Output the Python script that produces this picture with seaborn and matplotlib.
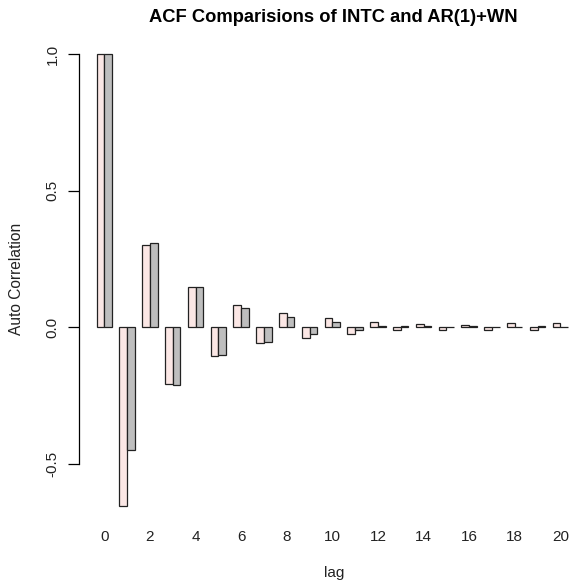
import matplotlib
matplotlib.use("Agg")
import matplotlib.pyplot as plt
import seaborn as sns
import pandas as pd

lags = list(range(21))
intc_acf = [1.0, -0.656, 0.300, -0.209, 0.146, -0.106, 0.080, -0.060, 0.051, -0.041,
            0.032, -0.027, 0.017, -0.012, 0.012, -0.012, 0.008, -0.012, 0.013, -0.012, 0.013]
ar1wn_acf = [1.0, -0.450, 0.308, -0.212, 0.146, -0.103, 0.070, -0.055, 0.037, -0.026,
             0.017, -0.012, 0.004, 0.002, 0.003, 0.001, 0.004, 0.001, 0.001, 0.004, 0.001]
series_names = ["INTC", "AR(1)+WN"]
xtick_labels = [str(v) for v in range(0, 21, 2)]
ytick_values = [-0.5, 0.0, 0.5, 1.0]

df = pd.DataFrame({
    "lag": lags * 2,
    "acf": intc_acf + ar1wn_acf,
    "series": [series_names[0]] * len(lags) + [series_names[1]] * len(lags),
})

sns.set_style("white")
plt.rcParams["font.family"] = ["Liberation Sans", "DejaVu Sans"]

W, H = 570, 583
fig = plt.figure(figsize=(W / 100, H / 100), dpi=100)
left_px, right_px, top_px, bottom_px = 79.3, 570, 36, 524
ax = fig.add_axes([left_px / W, (H - bottom_px) / H, (right_px - left_px) / W, (bottom_px - top_px) / H])

sns.barplot(data=df, x="lag", y="acf", hue="series", order=lags, hue_order=series_names,
            palette=["#FFE4E1", "#BEBEBE"], width=0.667, edgecolor="#222222", linewidth=0.9,
            errorbar=None, legend=False, ax=ax)

# group centre 0 at ~104.3 px, 22.8 px per group
ax.set_xlim((left_px - 104.3) / 22.8, (right_px - 104.3) / 22.8)
ax.set_ylim(-0.7216, 1.066)

for s in ["top", "right", "bottom"]:
    ax.spines[s].set_visible(False)
ax.spines["left"].set_bounds(-0.5, 1.0)
ax.spines["left"].set_color("black")
ax.spines["left"].set_linewidth(0.9)

ax.set_yticks(ytick_values)
ax.set_yticklabels(["-0.5", "0.0", "0.5", "1.0"], rotation=90, va="center", fontsize=11, color="#222222")
ax.tick_params(axis="y", left=True, length=8, width=0.9, color="black", pad=6)

ax.set_xticks(list(range(0, 21, 2)))
ax.set_xticklabels(xtick_labels, fontsize=11, color="#222222")
ax.tick_params(axis="x", bottom=False, length=0, pad=4.3)

ax.set_xlabel("")
ax.set_ylabel("")
fig.text(17 / W, 1 - 279 / H, "Auto Correlation", rotation=90, ha="center", va="center",
         fontsize=11.2, color="#222222")
fig.text(334 / W, 1 - 573 / H, "lag", ha="center", va="center", fontsize=11, color="#222222")
fig.text(333 / W, 1 - 17 / H, "ACF Comparisions of INTC and AR(1)+WN", ha="center", va="center",
         fontsize=13.2, fontweight="bold", color="black")

fig.savefig("out.png", dpi=100)
